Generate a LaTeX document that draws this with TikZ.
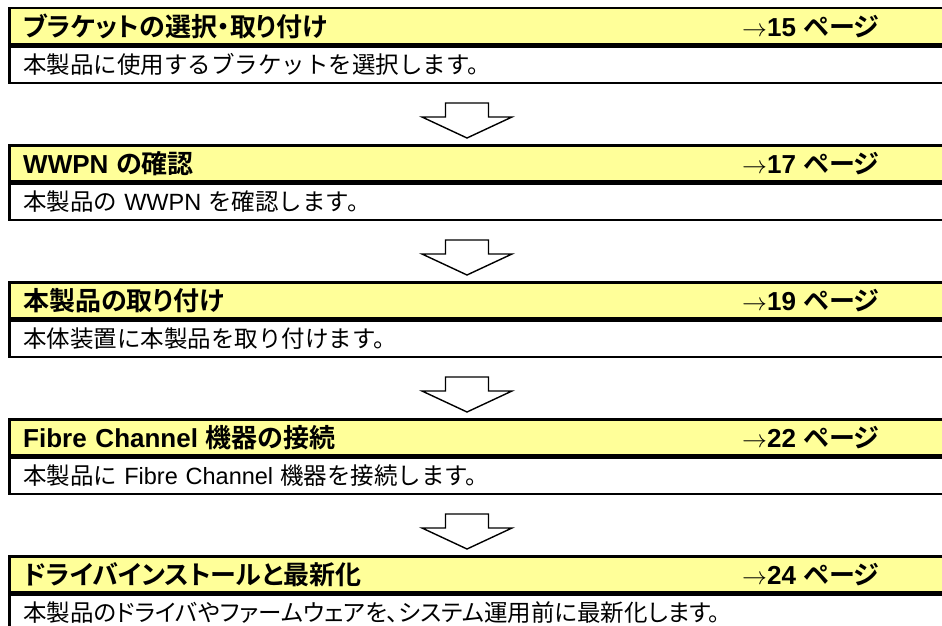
\documentclass[tikz,border=0pt]{standalone}
\usepackage{fontspec}
\setmainfont{Liberation Sans}
\newfontfamily\jpfont{Noto Sans CJK JP}[BoldFont={Noto Sans CJK JP Bold}]
\newfontfamily\jppfont{Noto Sans CJK JP}[BoldFont={Noto Sans CJK JP Bold}, RawFeature=+palt]
\newcommand{\eng}[1]{{\rmfamily #1}}
\newcommand{\jsp}{\hspace{0.3em}}
\usetikzlibrary{positioning}
\definecolor{headyellow}{HTML}{FFFF99}
\tikzset{
	node distance=0pt,
	head/.style= {
		rectangle,
		draw,
		line width=2.5pt,
		fill=headyellow,
		anchor=north west,
		text width=924pt,
		inner xsep=14pt,
		inner ysep=0pt,
		minimum height=36pt,
		align=left,
		font=\fontsize{26}{28}\selectfont\jppfont\bfseries
	},
	body/.style= {
		head,
		fill=white,
		font=\fontsize{23.5}{26}\selectfont\jpfont
	},
	pageref/.style= {
		inner sep=0pt,
		font=\fontsize{26}{28}\selectfont\jppfont\bfseries
	},
	flowarrow/.style= {
		draw,
		line width=1.4pt,
		fill=white
	}
}

\begin{document}
\begin{tikzpicture}[x=1pt, y=-1pt]
	\useasboundingbox (0,0) rectangle (942,626);
	\clip (0,0) rectangle (942,626);
	\coordinate (refx) at (742,0);
	\coordinate (arrx) at (467,0);

	\foreach[count=\i from 1] \ttl/\pg/\txt in {
		{ブラケットの選択・取り付け}/15/{本製品に使用するブラケットを選択します。},
		{\eng{WWPN}\jsp{}の確認}/17/{本製品の\jsp\eng{WWPN}\jsp{}を確認します。},
		{本製品の取り付け}/19/{本体装置に本製品を取り付けます。},
		{\eng{Fibre Channel}\jsp{}機器の接続}/22/{本製品に\jsp\eng{Fibre Channel}\jsp{}機器を接続します。},
		{ドライバインストールと最新化}/24/{\jppfont 本製品のドライバやファームウェアを、システム運用前に最新化します。}}
	{
		\node (head\i)[head] at (8, {7+137*(\i-1)}) {\ttl};
		\node (page\i)[pageref, anchor=base west] at (head\i.base -| refx) {$\rightarrow$\eng{\pg}\jsp{}ページ};
		\node (body\i)[body, below=of head\i] {\txt};
	}

	% block arrows between the steps
	\foreach \i in {1,...,4}
	{
		\coordinate (arr\i) at ([yshift=-19pt]body\i.south -| arrx);
		\draw[flowarrow, shift={(arr\i)}] (-21.5,0) -- (-21.5,14) -- (-45,14) -- (0,35) -- (45,14) -- (21.5,14) -- (21.5,0) -- cycle;
	}
\end{tikzpicture}
\end{document}
